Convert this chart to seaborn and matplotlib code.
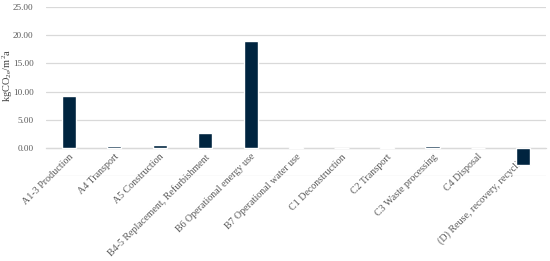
import matplotlib.pyplot as plt
import seaborn as sns
import numpy as np
import pandas as pd

stages = ['A1-3 Production', 'A4 Transport', 'A5 Construction',
          'B4-5 Replacement, Refurbishment', 'B6 Operational energy use',
          'B7 Operational water use', 'C1 Deconstruction', 'C2 Transport',
          'C3 Waste processing', 'C4 Disposal', '(D) Reuse, recovery, recycling']
values = [9.2, 0.3, 0.45, 2.65, 19.0, 0.2, 0.0, 0.2, 0.4, 0.0, -2.95]

data = pd.DataFrame({'stage': stages, 'value': values})

sns.set_style('white')
plt.rcParams['font.family'] = ['Liberation Serif', 'DejaVu Serif']
plt.rcParams['mathtext.fontset'] = 'custom'
plt.rcParams['mathtext.rm'] = 'Liberation Serif'
plt.rcParams['mathtext.it'] = 'Liberation Serif'

fig = plt.figure(figsize=(5.5, 2.61), dpi=100)
ax = fig.add_axes([0.0836, 0.3245, 0.9094, 0.6497])

sns.barplot(data=data, x='stage', y='value', color='#00243f', saturation=1,
            width=0.31, ax=ax, zorder=3)

ax.set_ylim(-5, 25)
ax.set_xlim(-0.5, len(stages) - 0.5)
ticks = np.arange(-5, 26, 5)
ax.set_yticks(ticks)
ax.set_yticklabels(['' if t < 0 else f'{t:.2f}' for t in ticks])
ax.yaxis.grid(True, color='#d9d9d9', lw=0.9, zorder=0)
for s in ['top', 'right', 'left']:
    ax.spines[s].set_visible(False)
ax.spines['bottom'].set_position(('data', 0))
ax.spines['bottom'].set_color('#d9d9d9')
ax.spines['bottom'].set_linewidth(0.9)
ax.spines['bottom'].set_zorder(1)
ax.tick_params(axis='y', length=0, pad=9, labelsize=6.6, labelcolor='#595959')
ax.tick_params(axis='x', length=0, pad=3, labelsize=7.2, labelcolor='#595959')
plt.setp(ax.get_xticklabels(), rotation=45, ha='right', rotation_mode='anchor')

ax.set_xlabel('')
ax.set_ylabel('')
fig.text(7.5 / 550, 1 - 75 / 261, 'kgCO$_{2e}$/m$^{2}$a', fontsize=7.5,
         color='#404040', rotation=90, ha='center', va='center')

fig.savefig('out.png', dpi=100)
